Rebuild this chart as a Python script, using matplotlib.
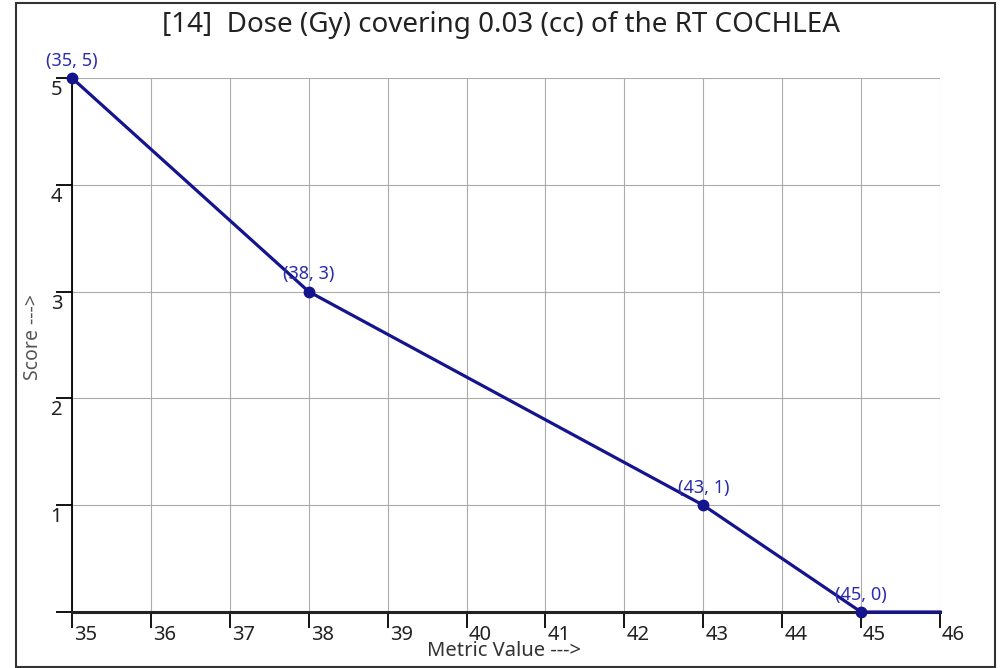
import matplotlib
matplotlib.use("Agg")
import matplotlib.pyplot as plt
import matplotlib.transforms as mtransforms
from matplotlib.patches import Rectangle

plt.rcParams['font.family'] = ['Noto Sans', 'DejaVu Sans']

# datos del gráfico
x_vals = [35, 38, 43, 45, 46]
y_vals = [5, 3, 1, 0, 0]
puntos = [(35, 5), (38, 3), (43, 1), (45, 0)]
x_ticks = list(range(35, 47))
y_ticks = [0, 1, 2, 3, 4, 5]
y_tick_labels = ['', '1', '2', '3', '4', '5']
titulo = '[14]  Dose (Gy) covering 0.03 (cc) of the RT COCHLEA'

azul = '#14148f'

fig = plt.figure(figsize=(10.01, 6.68), dpi=100)
ax = fig.add_axes([72 / 1001, 1 - 612 / 668, 868 / 1001, 534 / 668])

# marco exterior
fig.patches.append(Rectangle((16 / 1001, 1 / 668), 979 / 1001, 664 / 668,
                             transform=fig.transFigure, fill=False,
                             edgecolor='#333333', linewidth=1.5))

ax.plot(x_vals, y_vals, '-', color=azul, linewidth=2.3, zorder=5, clip_on=False)
ax.plot([p[0] for p in puntos], [p[1] for p in puntos], 'o', color=azul,
        markersize=7.5, zorder=6, clip_on=False)
for px, py in puntos:
    ax.annotate('(%d, %d)' % (px, py), (px, py), xytext=(0, 6),
                textcoords='offset points', ha='center', va='bottom',
                color='#2b2bb0', fontsize=13, zorder=7)

ax.set_xlim(35, 46)
ax.set_ylim(0, 5)
ax.set_xticks(x_ticks)
ax.set_yticks(y_ticks)
ax.set_yticklabels(y_tick_labels)
ax.grid(True, color='#ababab', linewidth=0.8)
ax.set_axisbelow(True)

for s in ['top', 'right']:
    ax.spines[s].set_visible(False)
ax.spines['left'].set_linewidth(1.3)
ax.spines['bottom'].set_linewidth(2.2)
ax.spines['bottom'].set_color('#222222')

ax.tick_params(axis='x', length=11.5, width=1.3, pad=-2, labelsize=14.5,
               labelcolor='#222222')
ax.tick_params(axis='y', length=11.5, width=1.3, pad=-4.5, labelsize=14.5,
               labelcolor='#222222')
for lab in ax.get_xticklabels():
    lab.set_horizontalalignment('left')
for lab in ax.get_yticklabels():
    lab.set_verticalalignment('top')

off = mtransforms.ScaledTranslation(2 / 100, 0, fig.dpi_scale_trans)
for lab in ax.get_xticklabels():
    lab.set_transform(lab.get_transform() + off)
off_y = mtransforms.ScaledTranslation(0, -2 / 100, fig.dpi_scale_trans)
for lab in ax.get_yticklabels():
    lab.set_transform(lab.get_transform() + off_y)

ax.set_xlabel('Metric Value --->', fontsize=14.5, color='#333333')
ax.xaxis.set_label_coords(0.498, -0.055)
ax.set_ylabel('Score --->', fontsize=14, color='#555555', va='center')
ax.yaxis.set_label_coords(-0.045, 0.515)

fig.text(0.5, 1 - 25 / 668, titulo, ha='center', va='center', fontsize=20,
         color='#222222')

fig.savefig('out.png', dpi=100)
